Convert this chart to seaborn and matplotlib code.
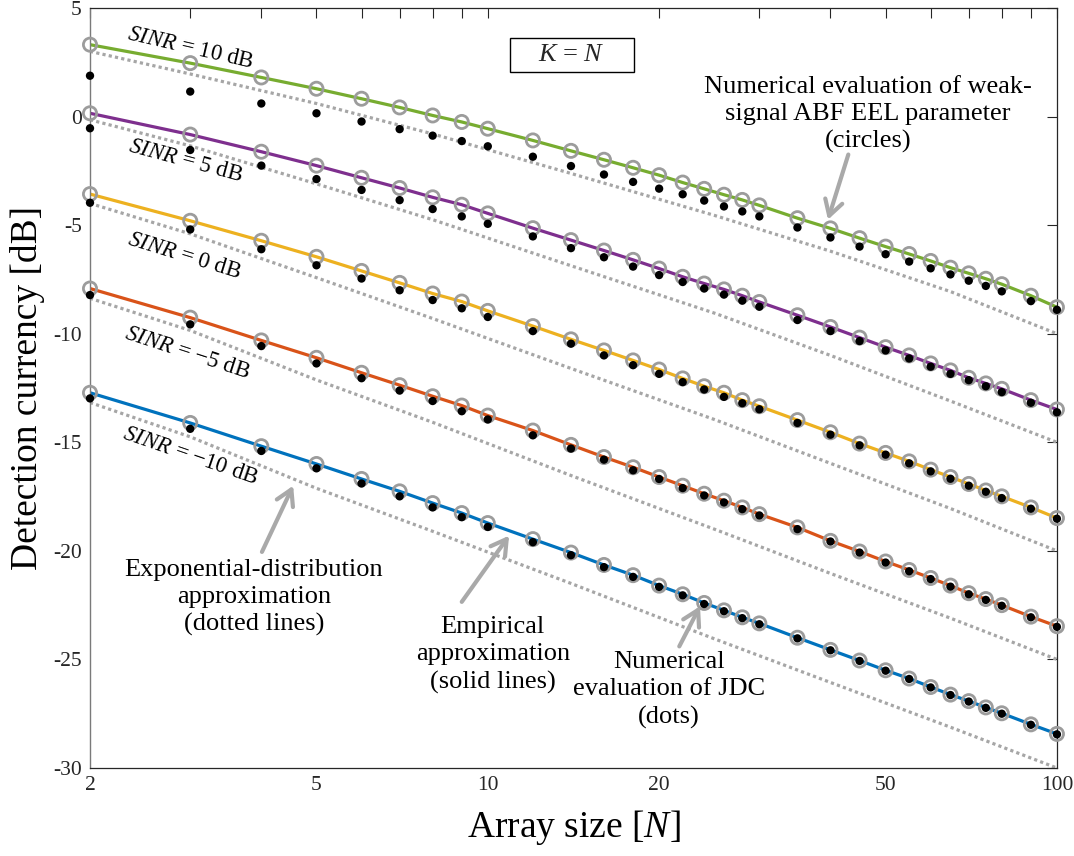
import matplotlib
matplotlib.use("Agg")
import matplotlib.pyplot as plt
from matplotlib.ticker import FixedLocator, FixedFormatter, NullFormatter
from matplotlib.patches import Rectangle
import pandas as pd
import seaborn as sns

# ---------------------------------------------------------------- data
array_size = [2, 3, 4, 5, 6, 7, 8, 9, 10, 12, 14, 16, 18, 20, 22, 24, 26, 28,
              30, 35, 40, 45, 50, 55, 60, 65, 70, 75, 80, 90, 100]
sinr_db = [10, 5, 0, -5, -10]

# weak-signal ABF EEL parameter (circles) / empirical approximation (solid)
eel_p10 = [3.31, 2.46, 1.80, 1.28, 0.82, 0.42, 0.05, -0.25, -0.56, -1.10, -1.58,
           -1.99, -2.36, -2.70, -3.04, -3.33, -3.60, -3.84, -4.09, -4.68, -5.15,
           -5.60, -5.99, -6.33, -6.65, -6.96, -7.22, -7.47, -7.72, -8.25, -8.78]
eel_p5 = [0.15, -0.83, -1.62, -2.26, -2.82, -3.29, -3.72, -4.06, -4.46, -5.14,
          -5.69, -6.17, -6.60, -7.00, -7.38, -7.69, -7.96, -8.25, -8.54, -9.15,
          -9.69, -10.18, -10.62, -11.00, -11.37, -11.69, -12.03, -12.29, -12.54,
          -13.06, -13.49]
eel_0 = [-3.57, -4.80, -5.72, -6.46, -7.11, -7.66, -8.15, -8.52, -8.95, -9.65,
         -10.26, -10.77, -11.23, -11.65, -12.06, -12.42, -12.72, -13.06, -13.34,
         -13.98, -14.54, -15.06, -15.49, -15.88, -16.26, -16.60, -16.92, -17.22,
         -17.49, -18.00, -18.49]
eel_m5 = [-7.92, -9.26, -10.31, -11.11, -11.80, -12.37, -12.88, -13.31, -13.77,
          -14.46, -15.12, -15.68, -16.15, -16.60, -17.00, -17.37, -17.69, -18.00,
          -18.31, -18.92, -19.54, -20.03, -20.49, -20.88, -21.25, -21.60, -21.95,
          -22.22, -22.50, -23.03, -23.47]
eel_m10 = [-12.72, -14.11, -15.18, -16.00, -16.69, -17.26, -17.80, -18.26, -18.72,
           -19.46, -20.08, -20.65, -21.12, -21.60, -22.00, -22.40, -22.74, -23.06,
           -23.34, -24.00, -24.56, -25.05, -25.50, -25.88, -26.27, -26.62, -26.92,
           -27.21, -27.48, -27.99, -28.43]

# numerical evaluation of JDC (dots)
jdc_p10 = [1.88, 1.15, 0.60, 0.15, -0.23, -0.58, -0.88, -1.13, -1.37, -1.85, -2.28,
           -2.67, -3.01, -3.32, -3.58, -3.87, -4.14, -4.37, -4.60, -5.11, -5.57,
           -5.99, -6.34, -6.68, -6.99, -7.27, -7.56, -7.80, -8.05, -8.50, -8.90]
jdc_p5 = [-0.54, -1.54, -2.26, -2.88, -3.38, -3.85, -4.26, -4.60, -4.94, -5.52,
          -6.06, -6.48, -6.91, -7.30, -7.62, -7.92, -8.20, -8.48, -8.76, -9.37,
          -9.88, -10.34, -10.77, -11.14, -11.52, -11.85, -12.14, -12.42, -12.69,
          -13.18, -13.62]
jdc_0 = [-3.97, -5.20, -6.11, -6.85, -7.46, -8.00, -8.45, -8.83, -9.23, -9.88,
         -10.46, -11.00, -11.45, -11.85, -12.23, -12.57, -12.91, -13.20, -13.48,
         -14.11, -14.65, -15.14, -15.57, -15.97, -16.34, -16.68, -17.00, -17.28,
         -17.57, -18.06, -18.52]
jdc_m5 = [-8.22, -9.57, -10.57, -11.37, -12.05, -12.62, -13.10, -13.57, -13.95,
          -14.68, -15.29, -15.80, -16.29, -16.69, -17.11, -17.45, -17.77, -18.08,
          -18.37, -19.00, -19.57, -20.08, -20.54, -20.94, -21.30, -21.65, -22.00,
          -22.26, -22.53, -23.06, -23.50]
jdc_m10 = [-12.98, -14.38, -15.40, -16.20, -16.90, -17.49, -18.00, -18.45, -18.90,
           -19.60, -20.20, -20.75, -21.20, -21.66, -22.05, -22.45, -22.78, -23.10,
           -23.38, -24.03, -24.58, -25.07, -25.52, -25.90, -26.29, -26.64, -26.94,
           -27.23, -27.50, -28.01, -28.45]

# exponential-distribution approximation (dotted)
exp_size = [2, 3, 5, 8, 14, 25, 40, 65, 100]
exp_p10 = [3.00, 1.96, 0.60, -0.80, -2.62, -4.55, -6.20, -8.06, -10.00]
exp_p5 = [-0.15, -1.35, -3.10, -4.75, -6.87, -9.05, -11.00, -13.10, -15.00]
exp_0 = [-4.00, -5.40, -7.42, -9.30, -11.60, -13.95, -15.97, -18.05, -20.00]
exp_m5 = [-8.37, -9.85, -12.13, -14.08, -16.53, -19.00, -21.04, -23.10, -25.00]
exp_m10 = [-13.17, -14.75, -17.12, -19.10, -21.50, -24.05, -26.06, -28.12, -30.00]

x_ticks = [2, 5, 10, 20, 50, 100]
x_minor = [3, 4, 6, 7, 8, 9, 30, 40, 60, 70, 80, 90]
y_ticks = [-30, -25, -20, -15, -10, -5, 0, 5]


def long_form(sizes, series):
    frames = [pd.DataFrame({"N": sizes, "value": vals, "SINR": s})
              for s, vals in zip(sinr_db, series)]
    return pd.concat(frames, ignore_index=True)


eel_df = long_form(array_size, [eel_p10, eel_p5, eel_0, eel_m5, eel_m10])
jdc_df = long_form(array_size, [jdc_p10, jdc_p5, jdc_0, jdc_m5, jdc_m10])
exp_df = long_form(exp_size, [exp_p10, exp_p5, exp_0, exp_m5, exp_m10])

# ---------------------------------------------------------------- style
sns.set_theme(style="white")
plt.rcParams["font.family"] = ["Liberation Serif", "DejaVu Serif"]
plt.rcParams["mathtext.fontset"] = "custom"
plt.rcParams["mathtext.rm"] = "Liberation Serif"
plt.rcParams["mathtext.it"] = "Liberation Serif:italic"
plt.rcParams["axes.unicode_minus"] = False

palette = {10: "#77AC30", 5: "#7E2F8E", 0: "#EDB120", -5: "#D95319", -10: "#0072BD"}
gray_line = "#a6a6a6"
circle_edge = "#9c9c9c"
arrow_gray = "#a9a9a9"

fig = plt.figure(figsize=(10.74, 8.56), dpi=100)
ax = fig.add_axes([0.0838, 0.1028, 0.9003, 0.8879])
ax.set_xscale("log")

# dotted approximation curves
sns.lineplot(data=exp_df, x="N", y="value", units="SINR", estimator=None,
             color=gray_line, linewidth=2.3, linestyle=(0, (1.0, 1.0)),
             sort=False, legend=False, ax=ax, zorder=1.5)
# solid empirical curves
sns.lineplot(data=eel_df, x="N", y="value", hue="SINR", palette=palette,
             linewidth=2.3, sort=False, legend=False, ax=ax, zorder=2)
# circles
sns.scatterplot(data=eel_df, x="N", y="value", marker="o", s=90,
                color=circle_edge, facecolor="none", edgecolor=circle_edge,
                linewidth=2.0, legend=False, ax=ax, zorder=3, clip_on=False)
# dots
sns.scatterplot(data=jdc_df, x="N", y="value", marker="o", s=36,
                color="black", edgecolor="none", linewidth=0,
                legend=False, ax=ax, zorder=4, clip_on=False)

ax.set_xlim(2, 100)
ax.set_ylim(-30, 5)
ax.xaxis.set_major_locator(FixedLocator(x_ticks))
ax.xaxis.set_major_formatter(FixedFormatter([str(t) for t in x_ticks]))
ax.xaxis.set_minor_locator(FixedLocator(x_minor))
ax.xaxis.set_minor_formatter(NullFormatter())
ax.yaxis.set_major_locator(FixedLocator(y_ticks))
ax.yaxis.set_major_formatter(FixedFormatter([str(t) for t in y_ticks]))
ax.tick_params(which="both", direction="in", length=7, width=0.8,
               top=True, right=True, colors="#262626", labelsize=15.5, pad=6)

for side in ["top", "right", "bottom"]:
    ax.spines[side].set_color("#262626")
    ax.spines[side].set_linewidth(0.9)
ax.spines["left"].set_color("#7a7a7a")
ax.spines["left"].set_linewidth(1.0)

ax.set_xlabel("Array size [$N$]", fontsize=27, color="black")
ax.set_ylabel("Detection currency [dB]", fontsize=27, color="black")
ax.xaxis.set_label_coords(0.5, -0.052)
ax.yaxis.set_label_coords(-0.047, 0.5)

# SINR labels along each curve
sinr_labels = [
    (3.0, 3.16, -13, "$SINR$ = 10 dB"),
    (2.95, -2.05, -15, "$SINR$ = 5 dB"),
    (2.93, -6.42, -17, "$SINR$ = 0 dB"),
    (2.97, -10.89, -18, "$SINR$ = \u22125 dB"),
    (3.0, -15.64, -19, "$SINR$ = \u221210 dB"),
]
for x, y, rot, txt in sinr_labels:
    ax.text(x, y, txt, fontsize=16.5, rotation=rot, rotation_mode="anchor",
            ha="center", va="center", color="black")

# K = N box
ax.add_patch(Rectangle((0.434, 0.9158), 0.1286, 0.0447, transform=ax.transAxes,
                       facecolor="white", edgecolor="black", linewidth=1.0, zorder=5))
ax.text(0.4983, 0.9382, "$K$ = $N$", transform=ax.transAxes, fontsize=19,
        ha="center", va="center", zorder=6)

# callouts
arrow_kw = dict(arrowstyle="->,head_length=0.55,head_width=0.32", color=arrow_gray,
                lw=3, shrinkA=0, shrinkB=0, mutation_scale=20)
callouts = [
    ("Numerical evaluation of weak-\nsignal ABF EEL parameter\n(circles)",
     (46.6, 0.1), (43.0, -1.75), (39.6, -4.75)),
    ("Exponential-distribution\napproximation\n(dotted lines)",
     (3.88, -22.15), (4.01, -20.05), (4.55, -17.0)),
    ("Empirical\napproximation\n(solid lines)",
     (10.2, -24.8), (9.0, -22.35), (10.9, -19.3)),
    ("Numerical\nevaluation of JDC\n(dots)",
     (20.8, -26.4), (21.7, -24.4), (23.6, -22.55)),
]
for txt, txt_xy, tail, tip in callouts:
    ax.text(txt_xy[0], txt_xy[1], txt, fontsize=19, ha="center", va="center",
            multialignment="center", linespacing=1.3, color="black", zorder=6)
    ax.annotate("", xy=tip, xytext=tail, arrowprops=arrow_kw, zorder=6)

fig.savefig("out.png", dpi=100)
